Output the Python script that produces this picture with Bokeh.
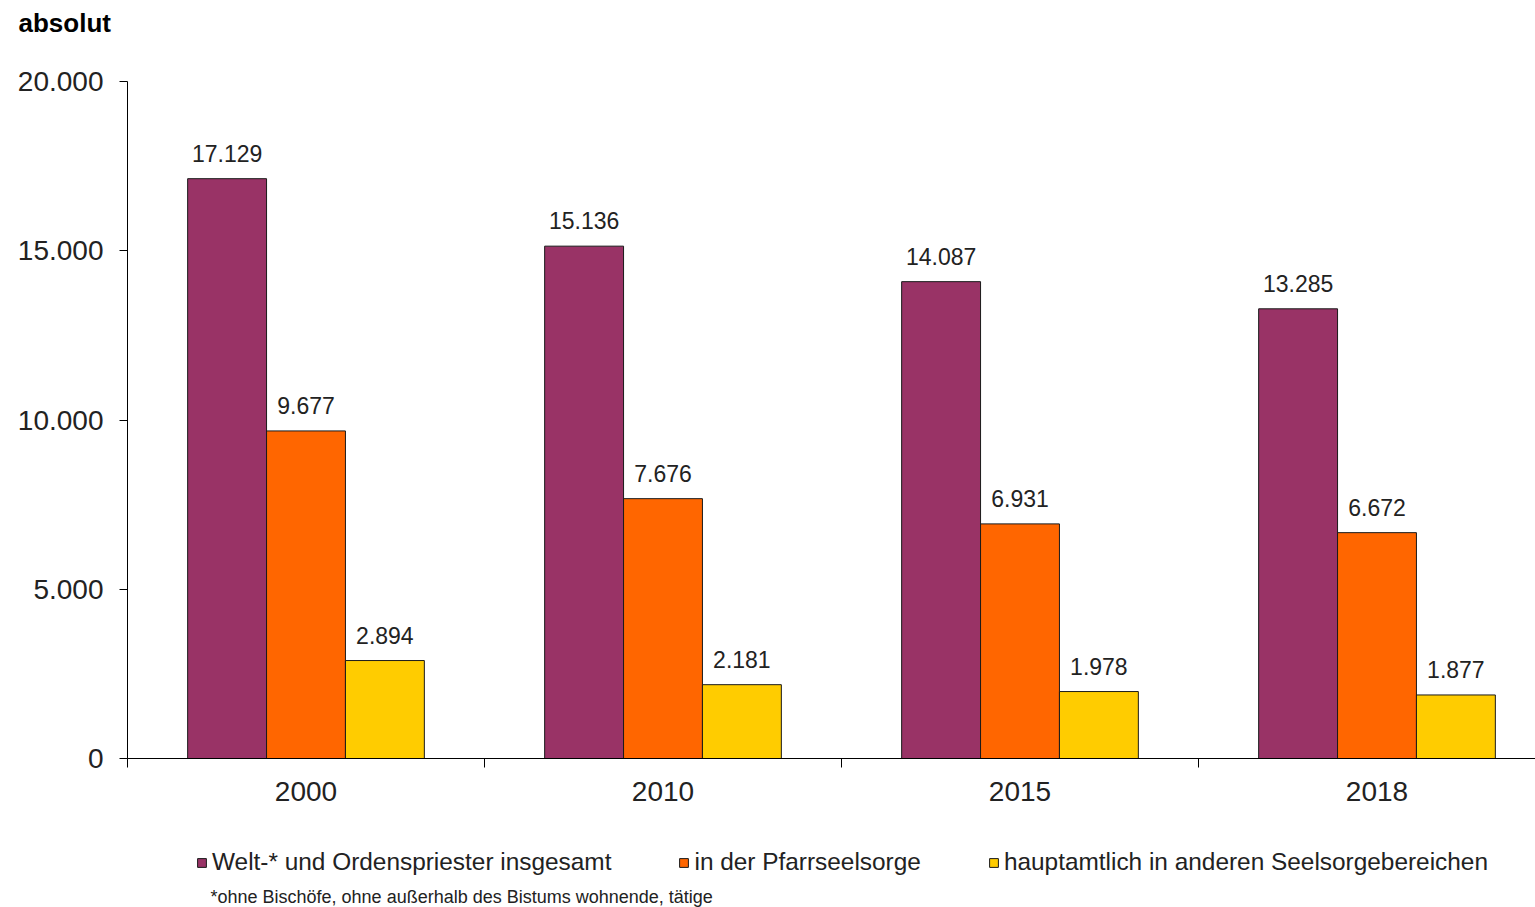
from bokeh.plotting import figure
from bokeh.models import ColumnDataSource, Range1d, FixedTicker, LabelSet, Label, Legend, LegendItem
from bokeh.core.properties import value
from bokeh.embed import file_html
from bokeh.resources import INLINE

# ---- data ----
years = ["2000", "2010", "2015", "2018"]
total = [17129, 15136, 14087, 13285]
pfarr = [9677, 7676, 6931, 6672]
other = [2894, 2181, 1978, 1877]
series_names = ["Welt-* und Ordenspriester insgesamt",
                "in der Pfarrseelsorge",
                "hauptamtlich in anderen Seelsorgebereichen"]
colors = ["#993366", "#FF6600", "#FFCC00"]
y_ticks = [0, 5000, 10000, 15000, 20000]
y_max = 20000
title_text = "absolut"
footnote = "*ohne Bischöfe, ohne außerhalb des Bistums wohnende, tätige"

FONT = "Liberation Sans"
TXT = "#222222"

# ---- layout (pixels) ----
W, H = 1535, 907
AX_LEFT, AX_TOP, AX_BOTTOM = 127, 81, 758   # plot area inside the canvas
CAT_PX = 357                                # width of one year group

k = (AX_BOTTOM - AX_TOP) / y_max
y_start = -(H - AX_BOTTOM) / k
y_end = y_max + AX_TOP / k
x_left = -0.5
x_start = x_left - AX_LEFT / CAT_PX
x_end = x_left + (W - AX_LEFT) / CAT_PX


def de(v):
    return f"{v:,}".replace(",", ".")


p = figure(width=W, height=H, output_backend="svg", toolbar_location=None, title=None,
           x_range=Range1d(x_start, x_end), y_range=Range1d(y_start, y_end),
           min_border=0, min_border_left=0, min_border_right=0,
           min_border_top=0, min_border_bottom=0)
p.outline_line_color = None
p.xgrid.visible = False
p.ygrid.visible = False
p.background_fill_color = "white"
p.border_fill_color = "white"

bar_w = 0.221
offsets = [-bar_w, 0.0, bar_w]
items = []
for vals, off, col, name in zip([total, pfarr, other], offsets, colors, series_names):
    xs = [i + off for i in range(len(years))]
    src = ColumnDataSource(dict(x=xs, top=vals, txt=[de(v) for v in vals]))
    r = p.vbar(x="x", top="top", width=bar_w, source=src, fill_color=col,
               line_color="#1a1a1a", line_width=1)
    items.append(LegendItem(label=name, renderers=[r]))
    ls = LabelSet(x="x", y="top", text="txt", source=src, text_align="center",
                  text_baseline="bottom", y_offset=17, text_font_size="23px",
                  text_color=TXT, text_font=value(FONT))
    p.add_layout(ls)

# axes (drawn inside the canvas at fixed data locations)
xa = p.xaxis[0]
xa.fixed_location = 0
xa.bounds = (x_left, x_end)
xa.ticker = FixedTicker(ticks=list(range(len(years))),
                        minor_ticks=[i - 0.5 for i in range(len(years) + 1)])
xa.major_label_overrides = {i: y for i, y in enumerate(years)}
xa.major_tick_line_color = None
xa.major_tick_out = 0
xa.major_tick_in = 0
xa.minor_tick_line_color = "black"
xa.minor_tick_out = 9
xa.minor_tick_in = 0
xa.axis_line_color = "black"
xa.major_label_standoff = 14
xa.major_label_text_font_size = "28px"
xa.major_label_text_font = FONT
xa.major_label_text_color = TXT

ya = p.yaxis[0]
ya.fixed_location = x_left
ya.bounds = (0, y_max)
ya.ticker = FixedTicker(ticks=y_ticks)
ya.major_label_overrides = {t: de(t) for t in y_ticks}
ya.major_tick_line_color = "black"
ya.major_tick_out = 8
ya.major_tick_in = 0
ya.minor_tick_line_color = None
ya.axis_line_color = "black"
ya.major_label_standoff = 16
ya.major_label_text_font_size = "28px"
ya.major_label_text_font = FONT
ya.major_label_text_color = TXT

legend = Legend(items=items, orientation="horizontal", location=(196, 31),
                glyph_width=11, glyph_height=11, label_standoff=5, spacing=67,
                padding=0, margin=0, border_line_color=None, background_fill_alpha=0,
                label_text_font_size="24.4px", label_text_font=FONT, label_text_color=TXT)
p.add_layout(legend)

p.add_layout(Label(x=18, y=H - 22, x_units="screen", y_units="screen", text=title_text,
                   text_font_size="26px", text_font_style="bold", text_font=FONT,
                   text_color="black", text_baseline="middle", text_align="left"))
p.add_layout(Label(x=210, y=H - 896, x_units="screen", y_units="screen", text=footnote,
                   text_font_size="18px", text_font=FONT,
                   text_color=TXT, text_baseline="middle", text_align="left"))

open("out.html", "w").write(file_html(p, INLINE))
